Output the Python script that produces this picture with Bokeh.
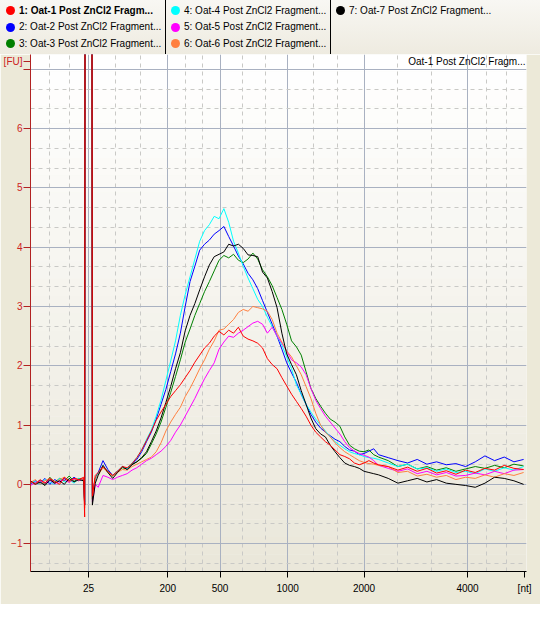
from bokeh.plotting import figure
from bokeh.layouts import column
from bokeh.models import Range1d, FixedTicker, Label, BoxAnnotation, Div
from bokeh.embed import file_html
from bokeh.resources import INLINE

FONT = "Liberation Sans"

# migration time (s)
t = [20.0, 20.5, 21.0, 21.5, 22.0, 22.5, 23.0, 23.5, 24.0, 24.5, 25.0, 25.5,
     25.6, 25.7, 26.3, 26.4,
     26.7, 27.0, 27.5, 28.0, 28.5, 29.0, 29.5, 30.0, 30.5, 31.0, 31.5, 32.0, 32.5, 33.0, 33.5,
     34.0, 34.5, 35.0, 35.5, 36.0, 36.5, 37.0, 37.5, 38.0, 38.5, 39.0, 39.5, 40.0, 40.5, 41.0,
     41.5, 42.0, 42.5, 43.0, 43.5, 44.0, 44.5, 45.0, 45.5, 46.0, 46.5, 47.0, 47.5, 48.0, 48.5,
     49.0, 49.5, 50.0, 50.5, 51.0, 51.5, 52.0, 52.5, 53.0, 53.5, 54.0, 54.5, 55.0, 55.5, 56.0,
     57.0, 58.0, 59.0, 60.0, 61.0, 62.0, 63.0, 64.0, 65.0, 66.0, 67.0, 68.0, 69.0, 70.0, 71.0]

oat1 = [0.05, 0.00, 0.08, 0.02, 0.10, 0.05, 0.00, 0.12, 0.06, 0.10, 0.08, 0.12,
        -0.55, 20, 20, -0.20,
        0.15, 0.20, 0.30, 0.22, 0.15, 0.22, 0.30, 0.28, 0.35, 0.45, 0.58, 0.74, 0.90, 1.08, 1.22,
        1.35, 1.48, 1.58, 1.68, 1.80, 1.92, 2.06, 2.18, 2.30, 2.38, 2.50, 2.58, 2.52, 2.60, 2.55,
        2.65, 2.50, 2.45, 2.42, 2.38, 2.30, 2.12, 2.02, 1.95, 1.80, 1.66, 1.52, 1.40, 1.28, 1.15,
        1.00, 0.88, 0.80, 0.72, 0.66, 0.58, 0.50, 0.47, 0.43, 0.36, 0.33, 0.36, 0.40, 0.36, 0.33,
        0.30, 0.24, 0.29, 0.22, 0.27, 0.19, 0.23, 0.17, 0.24, 0.20, 0.27, 0.24, 0.32, 0.27, 0.25]

oat2 = [0.00, 0.06, 0.02, 0.10, 0.00, 0.08, 0.04, 0.10, 0.05, 0.12, 0.06, 0.10,
        -0.30, 20, 20, -0.15,
        0.10, 0.20, 0.40, 0.25, 0.15, 0.22, 0.30, 0.25, 0.34, 0.42, 0.55, 0.72, 0.88, 1.10, 1.35,
        1.60, 1.90, 2.20, 2.55, 3.00, 3.42, 3.68, 3.95, 4.05, 4.12, 4.22, 4.28, 4.35, 4.18, 4.02,
        3.85, 3.72, 3.56, 3.45, 3.30, 3.10, 2.90, 2.70, 2.50, 2.28, 2.05, 1.88, 1.72, 1.52, 1.35,
        1.18, 1.05, 0.95, 0.88, 0.82, 0.76, 0.72, 0.64, 0.58, 0.56, 0.50, 0.52, 0.56, 0.60, 0.50,
        0.45, 0.40, 0.36, 0.42, 0.34, 0.38, 0.33, 0.35, 0.30, 0.38, 0.48, 0.40, 0.46, 0.38, 0.42]

oat3 = [0.04, 0.02, 0.07, 0.00, 0.12, 0.03, 0.10, 0.06, 0.14, 0.05, 0.10, 0.08,
        -0.35, 20, 20, -0.25,
        0.10, 0.18, 0.30, 0.22, 0.14, 0.22, 0.28, 0.26, 0.34, 0.38, 0.44, 0.52, 0.68, 0.85, 1.05,
        1.30, 1.55, 1.82, 2.10, 2.40, 2.62, 2.85, 3.05, 3.25, 3.42, 3.60, 3.78, 3.86, 3.82, 3.88,
        3.78, 3.74, 3.80, 3.90, 3.80, 3.62, 3.50, 3.35, 3.15, 2.95, 2.70, 2.42, 2.32, 2.18, 1.90,
        1.62, 1.45, 1.32, 1.20, 1.10, 1.05, 0.98, 0.80, 0.66, 0.60, 0.56, 0.55, 0.58, 0.50, 0.46,
        0.40, 0.30, 0.34, 0.26, 0.30, 0.24, 0.28, 0.22, 0.26, 0.30, 0.27, 0.32, 0.28, 0.34, 0.31]

oat4 = [0.02, 0.05, 0.00, 0.08, 0.04, 0.00, 0.10, 0.04, 0.08, 0.02, 0.10, 0.05,
        -0.30, 20, 20, -0.20,
        0.08, 0.18, 0.32, 0.22, 0.14, 0.22, 0.30, 0.26, 0.36, 0.45, 0.58, 0.76, 0.92, 1.15, 1.42,
        1.75, 2.08, 2.42, 2.85, 3.20, 3.50, 3.80, 4.10, 4.28, 4.38, 4.52, 4.48, 4.65, 4.42, 4.10,
        3.90, 3.68, 3.48, 3.30, 3.12, 3.00, 2.82, 2.66, 2.50, 2.35, 2.15, 1.95, 1.68, 1.52, 1.35,
        1.22, 1.10, 1.00, 0.90, 0.80, 0.72, 0.66, 0.60, 0.55, 0.52, 0.50, 0.47, 0.45, 0.44, 0.42,
        0.36, 0.30, 0.34, 0.26, 0.28, 0.22, 0.26, 0.20, 0.22, 0.18, 0.26, 0.22, 0.28, 0.24, 0.30]

oat5 = [-0.02, 0.03, 0.06, 0.02, 0.07, 0.01, 0.05, 0.08, 0.03, 0.09, 0.06, 0.10,
        -0.35, 20, 20, -0.30,
        0.00, -0.05, 0.15, 0.12, 0.08, 0.12, 0.15, 0.18, 0.24, 0.28, 0.34, 0.40, 0.44, 0.50, 0.56,
        0.64, 0.74, 0.88, 1.00, 1.15, 1.30, 1.45, 1.62, 1.78, 1.92, 2.05, 2.28, 2.40, 2.50, 2.48,
        2.55, 2.60, 2.66, 2.72, 2.75, 2.70, 2.55, 2.65, 2.50, 2.38, 2.25, 2.10, 2.05, 1.98, 1.85,
        1.62, 1.42, 1.28, 1.15, 1.05, 0.95, 0.85, 0.72, 0.62, 0.56, 0.52, 0.49, 0.46, 0.40, 0.32,
        0.27, 0.22, 0.26, 0.18, 0.22, 0.16, 0.20, 0.14, 0.15, 0.19, 0.16, 0.22, 0.18, 0.24, 0.25]

oat6 = [0.03, 0.08, 0.00, 0.06, 0.10, 0.02, 0.08, 0.12, 0.04, 0.10, 0.07, 0.10,
        -0.40, 20, 20, -0.25,
        0.10, 0.16, 0.28, 0.20, 0.14, 0.20, 0.25, 0.24, 0.30, 0.34, 0.38, 0.42, 0.46, 0.55, 0.70,
        0.90, 1.05, 1.18, 1.30, 1.48, 1.62, 1.78, 1.95, 2.10, 2.28, 2.42, 2.60, 2.62, 2.70, 2.78,
        2.90, 2.95, 2.92, 3.00, 2.98, 2.96, 2.92, 2.78, 2.55, 2.40, 2.25, 2.15, 2.00, 1.85, 1.65,
        1.45, 1.20, 1.00, 0.88, 0.80, 0.70, 0.62, 0.55, 0.50, 0.45, 0.40, 0.37, 0.35, 0.34, 0.32,
        0.30, 0.20, 0.22, 0.14, 0.17, 0.12, 0.15, 0.08, 0.12, 0.10, 0.16, 0.12, 0.18, 0.15, 0.20]

oat7 = [0.06, 0.00, 0.04, -0.02, 0.08, 0.02, 0.06, 0.00, 0.10, 0.04, 0.08, 0.06,
        -0.35, 20, 20, -0.35,
        0.02, 0.15, 0.32, 0.20, 0.10, 0.20, 0.30, 0.25, 0.33, 0.38, 0.45, 0.55, 0.72, 0.90, 1.12,
        1.38, 1.65, 1.95, 2.22, 2.59, 2.85, 3.05, 3.28, 3.50, 3.70, 3.84, 3.88, 3.92, 4.05, 4.02,
        4.05, 3.98, 3.87, 3.86, 3.84, 3.58, 3.48, 3.25, 2.98, 2.55, 2.20, 2.02, 1.85, 1.58, 1.35,
        1.12, 0.94, 0.85, 0.80, 0.66, 0.55, 0.45, 0.36, 0.32, 0.30, 0.27, 0.22, 0.20, 0.18, 0.16,
        0.10, 0.02, 0.06, 0.10, 0.04, 0.08, 0.02, 0.00, -0.02, -0.05, 0.02, 0.12, 0.10, 0.06, 0.00]

series = [oat1, oat2, oat3, oat4, oat5, oat6, oat7]
colors = ["#ff0000", "#0000ff", "#008000", "#00ffff", "#ff00ff", "#ff8040", "#000000"]
legend_labels = ["1: Oat-1 Post ZnCl2 Fragm...", "2: Oat-2 Post ZnCl2 Fragment...",
                 "3: Oat-3 Post ZnCl2 Fragment...", "4: Oat-4 Post ZnCl2 Fragment...",
                 "5: Oat-5 Post ZnCl2 Fragment...", "6: Oat-6 Post ZnCl2 Fragment...",
                 "7: Oat-7 Post ZnCl2 Fragment..."]
title_text = "Oat-1 Post ZnCl2 Fragm..."

# ladder positions (s) and size labels (nt)
tick_pos = [26.0, 34.2, 39.6, 46.6, 54.5, 65.2]
tick_labels = ["25", "200", "500", "1000", "2000", "4000"]
minor_x = [22.0, 24.0, 28.8, 31.4, 36.0, 37.8, 41.9, 44.3, 49.3, 51.8, 58.0, 61.5, 67.2, 69.2]
y_ticks = [-1, 0, 1, 2, 3, 4, 5, 6, 7]
x_unit, x_unit_pos = "[nt]", 71.1
y_unit, y_unit_pos = "[FU]", 7.14

Y0, Y1 = -1.47, 7.25
X0, X1 = 20.0, 71.3

p = figure(width=540, height=550, x_range=Range1d(X0, X1), y_range=Range1d(Y0, Y1),
           output_backend="svg", toolbar_location=None, title=None,
           min_border_left=28, min_border_right=14, min_border_top=0, min_border_bottom=33)
p.border_fill_color = "#ece9d8"
p.background_fill_color = "#f6f5f0"
p.outline_line_color = None

# vertical gradient background of the plot frame
n = 30
c_top = (255, 255, 255)
c_bot = (234, 231, 218)
for i in range(n):
    f = i / (n - 1)
    col = tuple(int(round(c_bot[k] + (c_top[k] - c_bot[k]) * f)) for k in range(3))
    b = Y0 + (Y1 - Y0) * i / n
    tp = Y0 + (Y1 - Y0) * (i + 1) / n
    p.add_layout(BoxAnnotation(bottom=b, top=tp, fill_color="#%02x%02x%02x" % col,
                               fill_alpha=1.0, line_color=None, level="image"))

minor_y = [k / 3 for k in range(-4, 22)]
p.xaxis.ticker = FixedTicker(ticks=tick_pos + [x_unit_pos], minor_ticks=minor_x)
p.yaxis.ticker = FixedTicker(ticks=y_ticks + [y_unit_pos], minor_ticks=minor_y)
p.xgrid.ticker = FixedTicker(ticks=tick_pos, minor_ticks=minor_x)
p.ygrid.ticker = FixedTicker(ticks=y_ticks, minor_ticks=minor_y)
xo = {tp_: lb for tp_, lb in zip(tick_pos, tick_labels)}
xo[x_unit_pos] = x_unit
p.xaxis.major_label_overrides = xo
p.yaxis.major_label_overrides = {7: "", y_unit_pos: y_unit}

for g in (p.xgrid, p.ygrid):
    g.grid_line_color = "#a9b1c1"
    g.grid_line_width = 1
    g.minor_grid_line_color = "#c9c9c6"
    g.minor_grid_line_dash = "4 4"

p.xaxis.axis_line_color = "#000000"
p.xaxis.major_tick_line_color = "#000000"
p.xaxis.major_tick_out = 6
p.xaxis.major_tick_in = 0
p.xaxis.minor_tick_line_color = None
p.xaxis.major_label_text_color = "#000000"
p.xaxis.major_label_standoff = 5

p.yaxis.axis_line_color = "#b22222"
p.yaxis.major_tick_line_color = "#b22222"
p.yaxis.major_tick_out = 7
p.yaxis.major_tick_in = 0
p.yaxis.minor_tick_line_color = None
p.yaxis.major_label_text_color = "#cc2222"
p.yaxis.major_label_standoff = 1

for ax in (p.xaxis, p.yaxis):
    ax.major_label_text_font = FONT
    ax.major_label_text_font_size = "10px"

order = [1, 2, 3, 4, 5, 6, 0]
for i in order:
    p.line(t, series[i], line_color=colors[i], line_width=1)

p.add_layout(Label(x=X1, y=Y1, text=title_text, text_align="right", text_baseline="top",
                   x_offset=-1, y_offset=-1, text_color="#000000",
                   text_font=FONT, text_font_size="10px"))

# legend panel as an HTML block (3 columns of sample entries)
col_x = [0, 165, 330]
row_y = [10.7, 27.3, 43.8]
parts = []
for sx in col_x[1:]:
    parts.append('<div style="position:absolute;left:%dpx;top:0;width:1px;height:54px;'
                 'background:#000000"></div>' % sx)
for k, (lab, colr) in enumerate(zip(legend_labels, colors)):
    c, r = divmod(k, 3)
    cx = col_x[c] + 10
    cy = row_y[r]
    parts.append('<div style="position:absolute;left:%.1fpx;top:%.1fpx;width:9px;height:9px;'
                 'border-radius:50%%;background:%s"></div>' % (cx - 4.5, cy - 4.5, colr))
    weight = "bold" if k == 0 else "normal"
    parts.append('<div style="position:absolute;left:%dpx;top:%.1fpx;height:12px;'
                 'line-height:12px;white-space:nowrap;font-weight:%s">%s</div>'
                 % (col_x[c] + 19, cy - 6, weight, lab))
html = ('<div style="position:relative;width:540px;height:54px;overflow:hidden;'
        'background:linear-gradient(#f8f7f3,#eeebe0);color:#000000;'
        'font-family:\'%s\';font-size:10px">%s</div>' % (FONT, "".join(parts)))
lg = Div(text=html, width=540, height=54, margin=(0, 0, 0, 0))

layout = column(lg, p, spacing=0)
open("out.html", "w").write(file_html(layout, INLINE))
